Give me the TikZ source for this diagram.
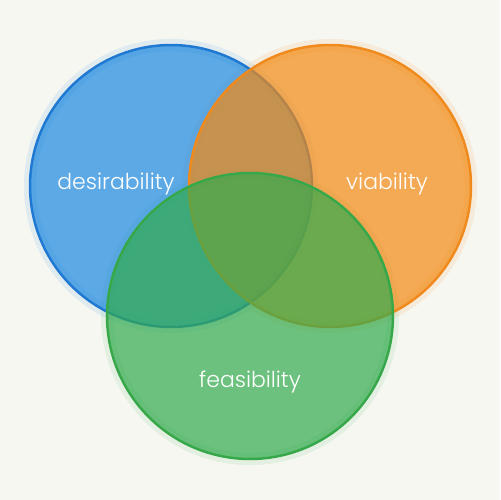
\documentclass[tikz,border=0pt]{standalone}
\usepackage{fontspec}
\setmainfont{Poppins Light}
\usepackage{xcolor}
\usetikzlibrary{positioning}

\definecolor{bgpaper}{HTML}{F7F7F2}
\definecolor{desFill}{HTML}{1B88E0}
\definecolor{desLine}{HTML}{1F78D1}
\definecolor{viaFill}{HTML}{F48911}
\definecolor{viaLine}{HTML}{F08A1C}
\definecolor{feaFill}{HTML}{32AB4D}
\definecolor{feaLine}{HTML}{36A84A}

\begin{document}
\begin{tikzpicture}[
    x=0.02cm, y=-0.02cm,
    set/.style={circle, inner sep=0pt, minimum size=5.64cm, line width=1.4pt, fill opacity=0.7},
    glow/.style={circle, inner sep=0pt, minimum size=5.64cm, line width=7pt, draw opacity=0.1},
    lbl/.style={text=white, font=\fontsize{12.5}{15}\selectfont}
  ]
    \fill[bgpaper] (0,0) rectangle (500,500);
    % soft halos
    \node[glow, draw=desFill] (desGlow) at (171,186) {};
    \node[glow, draw=viaFill] (viaGlow) at (330,186) {};
    \node[glow, draw=feaFill, minimum size=5.72cm] (feaGlow) at (250,316) {};
    % the three sets
    \node[set, fill=desFill, draw=desLine] (des) at (171,186) {};
    \node[set, fill=viaFill, draw=viaLine] (via) at (330,186) {};
    \node[set, fill=feaFill, draw=feaLine, minimum size=5.72cm] (fea) at (250,316) {};
    % labels
    \node[lbl] (desLbl) at (116,184) {desirability};
    \node[lbl] (viaLbl) at (387,184) {viability};
    \node[lbl] (feaLbl) at (250,382) {feasibility};
  \end{tikzpicture}
\end{document}
